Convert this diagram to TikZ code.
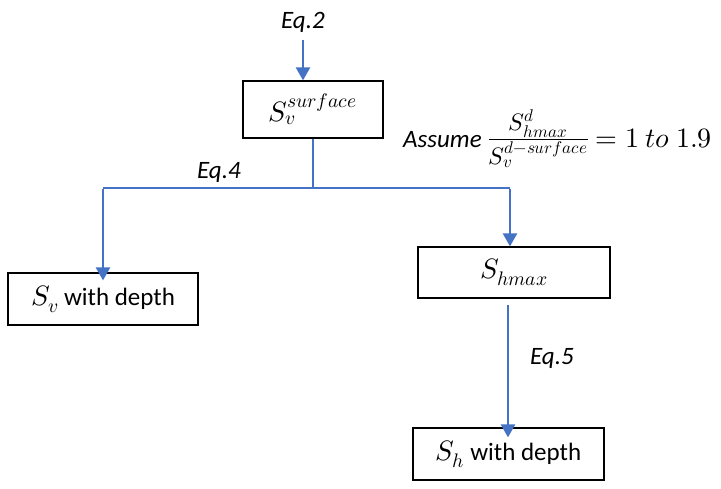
\documentclass[tikz,border=0pt]{standalone}
\usepackage{fontspec}
\usepackage{unicode-math}
\setmainfont{Carlito}
\setmathfont{Latin Modern Math}
\usetikzlibrary{arrows.meta}
\definecolor{lineblue}{HTML}{4472C4}
\newcommand{\mymath}[1]{{\fontsize{28}{32}\selectfont$#1$}}
\tikzset{
  box/.style={draw=black, line width=1.2pt, fill=white, inner sep=0pt, font=\fontsize{25}{29}\selectfont},
  lbl/.style={font=\fontsize{25}{29}\selectfont\itshape, inner sep=0pt},
  thinln/.style={draw=lineblue, line width=1.2pt},
  arr/.style={draw=lineblue, line width=2.4pt, -{Triangle[width=14pt,length=13pt]}}
}
\begin{document}
\begin{tikzpicture}[x=1pt,y=-1pt]
\useasboundingbox (0,0) rectangle (721,489);
\node[box, minimum width=140pt, minimum height=57pt] (surf) at (313,109.5) {\mymath{S_v^{surface}}};
\node[box, minimum width=190pt, minimum height=52pt] (svd) at (103,299) {\mymath{S_v} with depth};
\node[box, minimum width=192pt, minimum height=51pt] (shmax) at (514,272.5) {\mymath{S_{hmax}}};
\node[box, minimum width=191pt, minimum height=52pt] (shd) at (508.5,454) {\mymath{S_h} with depth};
\node[lbl] (eq2) at (303,22) {Eq.2};
\node[lbl] (eq4) at (219,172) {Eq.4};
\node[lbl] (eq5) at (552,358) {Eq.5};
\node[lbl, anchor=base west] (assume) at (403,148) {Assume {\upshape\fontsize{34}{40}\selectfont$\frac{S^d_{hmax}}{S_v^{d-surface}}$}\kern7pt{\upshape\fontsize{28}{32}\selectfont$=1\ to\ 1.9$}};
\coordinate (top) at (303,40);
\coordinate (junc) at (313,188);
\coordinate (jl) at (103,188);
\coordinate (jr) at (510,188);
\coordinate (shout) at (508,305);
\draw[arr] (top) -- (top |- surf.north);
\draw[thinln] (surf.south) -- (junc);
\draw[thinln] (jl) -- (jr);
\draw[arr] ([yshift=-0.6pt]jl) -- ([yshift=-8pt]jl |- svd.north);
\draw[arr] ([yshift=-0.6pt]jr) -- (jr |- shmax.north);
\draw[arr] (shout) -- ([yshift=-10pt]shout |- shd.north);
\end{tikzpicture}
\end{document}
